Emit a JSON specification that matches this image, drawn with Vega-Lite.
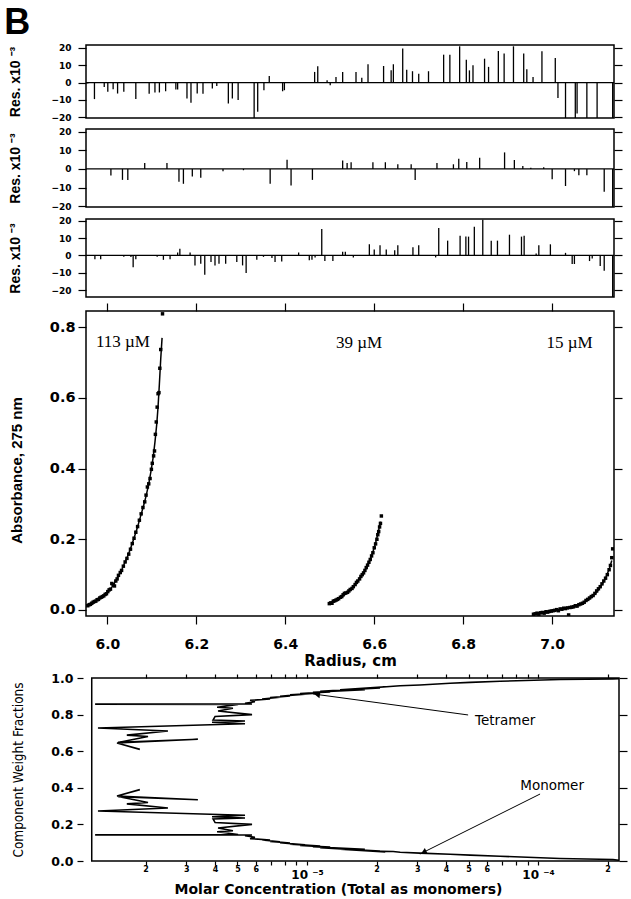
{
"$schema": "https://vega.github.io/schema/vega-lite/v6.json",
"padding": {"left": 4, "top": 4, "right": 2, "bottom": 0},
"title": {"text": "B", "anchor": "start", "font": "Liberation Sans", "fontSize": 36, "fontWeight": "bold", "color": "black", "dx": -3, "offset": 1},
"config": {
  "view": {"stroke": "black", "strokeWidth": 1.5},
  "axis": {"domain": false, "grid": false, "tickColor": "black", "tickWidth": 1.2, "labelColor": "black", "titleColor": "black", "labelFont": "DejaVu Sans", "labelFontWeight": "bold", "titleFont": "Liberation Sans", "titleFontWeight": "bold"}
},
"datasets": {
  "res1": [
    {"r":5.956,"v":-0.5},{"r":5.971,"v":-9.5},{"r":5.993,"v":-2.5},{"r":6.001,"v":-5.3},{"r":6.013,"v":-3.8},{"r":6.023,"v":-6.3},{"r":6.037,"v":-5.3},{"r":6.064,"v":-9.5},{"r":6.094,"v":-6.5},{"r":6.107,"v":-5.7},{"r":6.117,"v":-5.7},{"r":6.131,"v":-5},{"r":6.154,"v":-4},{"r":6.158,"v":-4},{"r":6.179,"v":-9.1},{"r":6.188,"v":-11.6},{"r":6.202,"v":-6.3},{"r":6.215,"v":-6.5},{"r":6.236,"v":-3.4},{"r":6.246,"v":-2},{"r":6.272,"v":-12},{"r":6.281,"v":-9.1},{"r":6.294,"v":-10},{"r":6.33,"v":-21},{"r":6.338,"v":-16.8},{"r":6.352,"v":-4.4},{"r":6.364,"v":3.8},{"r":6.394,"v":-5},{"r":6.398,"v":-4.4},{"r":6.466,"v":6.1},{"r":6.473,"v":9.3},{"r":6.494,"v":1.3},{"r":6.501,"v":-1.5},{"r":6.514,"v":3.2},{"r":6.529,"v":6.1},{"r":6.559,"v":6.1},{"r":6.572,"v":2.7},{"r":6.586,"v":10.5},{"r":6.621,"v":9.5},{"r":6.638,"v":7},{"r":6.643,"v":10.5},{"r":6.664,"v":19.6},{"r":6.673,"v":7.4},{"r":6.686,"v":6.5},{"r":6.7,"v":5.1},{"r":6.722,"v":6.5},{"r":6.756,"v":16},{"r":6.77,"v":16},{"r":6.792,"v":20.8},{"r":6.807,"v":13.1},{"r":6.814,"v":7},{"r":6.822,"v":9.9},{"r":6.848,"v":13.7},{"r":6.857,"v":9},{"r":6.879,"v":18.1},{"r":6.892,"v":16.6},{"r":6.913,"v":20.8},{"r":6.936,"v":16.6},{"r":6.943,"v":7.6},{"r":6.957,"v":3.2},{"r":6.977,"v":17.9},{"r":7.007,"v":14.1},{"r":7.013,"v":-8.8},{"r":7.03,"v":-21},{"r":7.052,"v":-21},{"r":7.056,"v":-17.7},{"r":7.078,"v":-21},{"r":7.101,"v":-21},{"r":7.136,"v":-21}
  ],
  "res2": [
    {"r":6.008,"v":-3.6},{"r":6.034,"v":-5.9},{"r":6.046,"v":-5.9},{"r":6.084,"v":3.2},{"r":6.134,"v":3.2},{"r":6.161,"v":-6.9},{"r":6.171,"v":-8},{"r":6.191,"v":-4.1},{"r":6.21,"v":-4.8},{"r":6.26,"v":-1.2},{"r":6.306,"v":-0.7},{"r":6.366,"v":-8},{"r":6.404,"v":5},{"r":6.413,"v":-8.9},{"r":6.461,"v":-5.9},{"r":6.529,"v":4.6},{"r":6.539,"v":3.2},{"r":6.548,"v":3.6},{"r":6.597,"v":3.6},{"r":6.625,"v":3.6},{"r":6.653,"v":2.5},{"r":6.683,"v":2.5},{"r":6.692,"v":-6},{"r":6.741,"v":3.2},{"r":6.778,"v":2.5},{"r":6.79,"v":5.5},{"r":6.808,"v":3.7},{"r":6.837,"v":6},{"r":6.893,"v":8.9},{"r":6.915,"v":4.8},{"r":6.934,"v":1.6},{"r":6.952,"v":0.7},{"r":6.981,"v":0.9},{"r":7.0,"v":-5.5},{"r":7.03,"v":-9.2},{"r":7.05,"v":-1.2},{"r":7.06,"v":-3.4},{"r":7.078,"v":-3.4},{"r":7.117,"v":-12.3},{"r":7.136,"v":-21}
  ],
  "res3": [
    {"r":5.972,"v":-2.1},{"r":5.985,"v":-2.1},{"r":6.037,"v":-0.8},{"r":6.053,"v":-0.9},{"r":6.058,"v":-6.8},{"r":6.064,"v":-2.1},{"r":6.112,"v":-0.8},{"r":6.126,"v":-2.5},{"r":6.141,"v":-2.1},{"r":6.158,"v":1.7},{"r":6.163,"v":3.8},{"r":6.186,"v":1.7},{"r":6.197,"v":-5.7},{"r":6.21,"v":-4.7},{"r":6.219,"v":-11},{"r":6.233,"v":-3.8},{"r":6.242,"v":-5.7},{"r":6.251,"v":-4.7},{"r":6.266,"v":-4.7},{"r":6.291,"v":-3.8},{"r":6.304,"v":-5.7},{"r":6.312,"v":-10},{"r":6.336,"v":-2.5},{"r":6.351,"v":-0.8},{"r":6.37,"v":-1.5},{"r":6.377,"v":-3.8},{"r":6.392,"v":-3.4},{"r":6.43,"v":1.7},{"r":6.454,"v":-2.8},{"r":6.46,"v":-2.5},{"r":6.467,"v":-1.1},{"r":6.482,"v":15.1},{"r":6.489,"v":-3.2},{"r":6.507,"v":-3.2},{"r":6.529,"v":2.1},{"r":6.535,"v":2.1},{"r":6.553,"v":-1.1},{"r":6.589,"v":6.4},{"r":6.6,"v":3.4},{"r":6.613,"v":5.8},{"r":6.627,"v":3.4},{"r":6.646,"v":3},{"r":6.653,"v":5.8},{"r":6.687,"v":4.7},{"r":6.7,"v":5.8},{"r":6.738,"v":-1.1},{"r":6.745,"v":15.7},{"r":6.765,"v":8.5},{"r":6.793,"v":11.3},{"r":6.806,"v":10.8},{"r":6.812,"v":10.8},{"r":6.825,"v":16.4},{"r":6.844,"v":20.4},{"r":6.863,"v":8.5},{"r":6.877,"v":8.5},{"r":6.904,"v":11.9},{"r":6.931,"v":10.8},{"r":6.937,"v":11.3},{"r":6.964,"v":1.1},{"r":6.97,"v":5.8},{"r":6.996,"v":6.4},{"r":7.03,"v":1.5},{"r":7.045,"v":-4.9},{"r":7.05,"v":-4.9},{"r":7.084,"v":-3.2},{"r":7.09,"v":-1.7},{"r":7.108,"v":-6},{"r":7.117,"v":-8.7},{"r":7.136,"v":-25}
  ],
  "pts": [
    {"s":"113","r":5.956,"a":0.012},{"s":"113","r":5.959,"a":0.015},{"s":"113","r":5.962,"a":0.016},{"s":"113","r":5.965,"a":0.019},{"s":"113","r":5.968,"a":0.022},{"s":"113","r":5.971,"a":0.024},{"s":"113","r":5.974,"a":0.025},{"s":"113","r":5.977,"a":0.029},{"s":"113","r":5.98,"a":0.03},{"s":"113","r":5.983,"a":0.034},{"s":"113","r":5.986,"a":0.036},{"s":"113","r":5.989,"a":0.038},{"s":"113","r":5.992,"a":0.04},{"s":"113","r":5.995,"a":0.044},{"s":"113","r":5.998,"a":0.046},{"s":"113","r":6.001,"a":0.052},{"s":"113","r":6.004,"a":0.057},{"s":"113","r":6.007,"a":0.059},{"s":"113","r":6.01,"a":0.075},{"s":"113","r":6.013,"a":0.072},{"s":"113","r":6.016,"a":0.068},{"s":"113","r":6.019,"a":0.082},{"s":"113","r":6.022,"a":0.088},{"s":"113","r":6.025,"a":0.098},{"s":"113","r":6.029,"a":0.106},{"s":"113","r":6.032,"a":0.112},{"s":"113","r":6.036,"a":0.124},{"s":"113","r":6.04,"a":0.136},{"s":"113","r":6.044,"a":0.146},{"s":"113","r":6.048,"a":0.158},{"s":"113","r":6.052,"a":0.172},{"s":"113","r":6.056,"a":0.188},{"s":"113","r":6.06,"a":0.203},{"s":"113","r":6.064,"a":0.22},{"s":"113","r":6.068,"a":0.236},{"s":"113","r":6.072,"a":0.254},{"s":"113","r":6.076,"a":0.272},{"s":"113","r":6.08,"a":0.29},{"s":"113","r":6.084,"a":0.306},{"s":"113","r":6.087,"a":0.325},{"s":"113","r":6.09,"a":0.348},{"s":"113","r":6.093,"a":0.357},{"s":"113","r":6.096,"a":0.372},{"s":"113","r":6.099,"a":0.398},{"s":"113","r":6.101,"a":0.415},{"s":"113","r":6.104,"a":0.436},{"s":"113","r":6.106,"a":0.45},{"s":"113","r":6.108,"a":0.497},{"s":"113","r":6.11,"a":0.532},{"s":"113","r":6.112,"a":0.574},{"s":"113","r":6.114,"a":0.612},{"s":"113","r":6.116,"a":0.615},{"s":"113","r":6.118,"a":0.684},{"s":"113","r":6.12,"a":0.737},{"s":"113","r":6.124,"a":0.838},
    {"s":"39","r":6.499,"a":0.018},{"s":"39","r":6.502,"a":0.02},{"s":"39","r":6.505,"a":0.019},{"s":"39","r":6.508,"a":0.025},{"s":"39","r":6.511,"a":0.026},{"s":"39","r":6.514,"a":0.028},{"s":"39","r":6.517,"a":0.03},{"s":"39","r":6.52,"a":0.032},{"s":"39","r":6.524,"a":0.036},{"s":"39","r":6.527,"a":0.038},{"s":"39","r":6.53,"a":0.043},{"s":"39","r":6.533,"a":0.047},{"s":"39","r":6.536,"a":0.048},{"s":"39","r":6.54,"a":0.05},{"s":"39","r":6.543,"a":0.054},{"s":"39","r":6.546,"a":0.058},{"s":"39","r":6.55,"a":0.061},{"s":"39","r":6.553,"a":0.066},{"s":"39","r":6.557,"a":0.072},{"s":"39","r":6.56,"a":0.078},{"s":"39","r":6.563,"a":0.082},{"s":"39","r":6.567,"a":0.088},{"s":"39","r":6.57,"a":0.095},{"s":"39","r":6.573,"a":0.1},{"s":"39","r":6.576,"a":0.105},{"s":"39","r":6.579,"a":0.112},{"s":"39","r":6.582,"a":0.12},{"s":"39","r":6.585,"a":0.127},{"s":"39","r":6.588,"a":0.135},{"s":"39","r":6.591,"a":0.143},{"s":"39","r":6.594,"a":0.153},{"s":"39","r":6.597,"a":0.162},{"s":"39","r":6.6,"a":0.176},{"s":"39","r":6.603,"a":0.187},{"s":"39","r":6.606,"a":0.2},{"s":"39","r":6.608,"a":0.213},{"s":"39","r":6.61,"a":0.222},{"s":"39","r":6.612,"a":0.235},{"s":"39","r":6.614,"a":0.245},{"s":"39","r":6.616,"a":0.266},
    {"s":"15","r":6.958,"a":-0.012},{"s":"15","r":6.962,"a":-0.011},{"s":"15","r":6.966,"a":-0.009},{"s":"15","r":6.97,"a":-0.012},{"s":"15","r":6.974,"a":-0.008},{"s":"15","r":6.978,"a":-0.007},{"s":"15","r":6.982,"a":-0.009},{"s":"15","r":6.986,"a":-0.005},{"s":"15","r":6.99,"a":-0.006},{"s":"15","r":6.994,"a":-0.004},{"s":"15","r":6.998,"a":-0.003},{"s":"15","r":7.002,"a":-0.002},{"s":"15","r":7.006,"a":-0.001},{"s":"15","r":7.01,"a":0.001},{"s":"15","r":7.014,"a":-0.002},{"s":"15","r":7.018,"a":0.003},{"s":"15","r":7.022,"a":0.002},{"s":"15","r":7.026,"a":0.005},{"s":"15","r":7.03,"a":0.004},{"s":"15","r":7.034,"a":0.006},{"s":"15","r":7.037,"a":-0.014},{"s":"15","r":7.04,"a":0.007},{"s":"15","r":7.044,"a":0.008},{"s":"15","r":7.048,"a":0.009},{"s":"15","r":7.052,"a":0.012},{"s":"15","r":7.056,"a":0.011},{"s":"15","r":7.06,"a":0.015},{"s":"15","r":7.064,"a":0.017},{"s":"15","r":7.068,"a":0.019},{"s":"15","r":7.072,"a":0.022},{"s":"15","r":7.076,"a":0.027},{"s":"15","r":7.08,"a":0.03},{"s":"15","r":7.084,"a":0.034},{"s":"15","r":7.088,"a":0.038},{"s":"15","r":7.092,"a":0.041},{"s":"15","r":7.096,"a":0.047},{"s":"15","r":7.1,"a":0.054},{"s":"15","r":7.104,"a":0.06},{"s":"15","r":7.108,"a":0.066},{"s":"15","r":7.112,"a":0.074},{"s":"15","r":7.116,"a":0.082},{"s":"15","r":7.12,"a":0.09},{"s":"15","r":7.124,"a":0.1},{"s":"15","r":7.128,"a":0.114},{"s":"15","r":7.131,"a":0.126},{"s":"15","r":7.134,"a":0.148},{"s":"15","r":7.136,"a":0.173}
  ],
  "fit": [
    {"s":"113","r":5.955,"a":0.013},{"s":"113","r":5.965,"a":0.02},{"s":"113","r":5.977,"a":0.028},{"s":"113","r":5.989,"a":0.037},{"s":"113","r":6.0,"a":0.049},{"s":"113","r":6.011,"a":0.066},{"s":"113","r":6.022,"a":0.089},{"s":"113","r":6.033,"a":0.116},{"s":"113","r":6.044,"a":0.147},{"s":"113","r":6.052,"a":0.173},{"s":"113","r":6.059,"a":0.2},{"s":"113","r":6.067,"a":0.231},{"s":"113","r":6.074,"a":0.262},{"s":"113","r":6.081,"a":0.293},{"s":"113","r":6.087,"a":0.322},{"s":"113","r":6.093,"a":0.356},{"s":"113","r":6.098,"a":0.392},{"s":"113","r":6.103,"a":0.432},{"s":"113","r":6.107,"a":0.475},{"s":"113","r":6.111,"a":0.525},{"s":"113","r":6.114,"a":0.575},{"s":"113","r":6.117,"a":0.64},{"s":"113","r":6.12,"a":0.71},{"s":"113","r":6.123,"a":0.77},
    {"s":"39","r":6.5,"a":0.02},{"s":"39","r":6.51,"a":0.026},{"s":"39","r":6.52,"a":0.032},{"s":"39","r":6.53,"a":0.04},{"s":"39","r":6.54,"a":0.05},{"s":"39","r":6.55,"a":0.062},{"s":"39","r":6.56,"a":0.077},{"s":"39","r":6.57,"a":0.094},{"s":"39","r":6.58,"a":0.114},{"s":"39","r":6.588,"a":0.134},{"s":"39","r":6.595,"a":0.157},{"s":"39","r":6.6,"a":0.176},{"s":"39","r":6.605,"a":0.199},{"s":"39","r":6.61,"a":0.226},{"s":"39","r":6.614,"a":0.25},
    {"s":"15","r":6.958,"a":-0.01},{"s":"15","r":6.98,"a":-0.006},{"s":"15","r":7.0,"a":-0.002},{"s":"15","r":7.02,"a":0.003},{"s":"15","r":7.04,"a":0.008},{"s":"15","r":7.06,"a":0.015},{"s":"15","r":7.075,"a":0.024},{"s":"15","r":7.09,"a":0.037},{"s":"15","r":7.1,"a":0.05},{"s":"15","r":7.11,"a":0.068},{"s":"15","r":7.12,"a":0.09},{"s":"15","r":7.128,"a":0.115},{"s":"15","r":7.134,"a":0.14}
  ],
  "labs": [
    {"r":6.035,"a":0.758,"t":"113 µM"},{"r":6.566,"a":0.756,"t":"39 µM"},{"r":7.039,"a":0.756,"t":"15 µM"}
  ],
  "frac": [
    {"i":0,"c":0.000224,"tet":0.996,"mono":0.004},{"i":1,"c":0.000211,"tet":0.995,"mono":0.008},{"i":2,"c":0.0001245,"tet":0.992,"mono":0.014},{"i":3,"c":0.0000685,"tet":0.982,"mono":0.026},{"i":4,"c":0.0000508,"tet":0.976,"mono":0.032},{"i":5,"c":0.0000416,"tet":0.971,"mono":0.037},{"i":6,"c":0.0000308,"tet":0.962,"mono":0.043},{"i":7,"c":0.0000253,"tet":0.958,"mono":0.048},{"i":8,"c":0.0000236,"tet":0.955,"mono":0.052},{"i":9,"c":0.0000187,"tet":0.945,"mono":0.055},{"i":10,"c":0.0000218,"tet":0.952,"mono":0.05},{"i":11,"c":0.0000139,"tet":0.935,"mono":0.065},{"i":12,"c":0.0000207,"tet":0.946,"mono":0.054},{"i":13,"c":0.0000114,"tet":0.928,"mono":0.072},{"i":14,"c":0.0000178,"tet":0.936,"mono":0.064},{"i":15,"c":0.0000106,"tet":0.922,"mono":0.078},{"i":16,"c":0.0000126,"tet":0.924,"mono":0.076},{"i":17,"c":0.00000933,"tet":0.915,"mono":0.085},{"i":18,"c":0.0000114,"tet":0.918,"mono":0.082},{"i":19,"c":0.00000844,"tet":0.908,"mono":0.092},{"i":20,"c":0.0000098,"tet":0.912,"mono":0.088},{"i":21,"c":0.00000764,"tet":0.9,"mono":0.1},{"i":22,"c":0.00000844,"tet":0.902,"mono":0.098},{"i":23,"c":0.00000692,"tet":0.893,"mono":0.107},{"i":24,"c":0.00000764,"tet":0.895,"mono":0.105},{"i":25,"c":0.00000639,"tet":0.885,"mono":0.115},{"i":26,"c":0.00000692,"tet":0.885,"mono":0.115},{"i":27,"c":0.00000567,"tet":0.878,"mono":0.122},{"i":28,"c":0.00000595,"tet":0.87,"mono":0.13},{"i":29,"c":0.00000539,"tet":0.862,"mono":0.138},{"i":30,"c":0.00000578,"tet":0.858,"mono":0.142},{"i":31,"c":0.00000121,"tet":0.857,"mono":0.143},{"i":32,"c":0.00000503,"tet":0.855,"mono":0.145},{"i":33,"c":0.00000408,"tet":0.84,"mono":0.16},{"i":34,"c":0.00000478,"tet":0.835,"mono":0.165},{"i":35,"c":0.00000412,"tet":0.82,"mono":0.18},{"i":36,"c":0.00000578,"tet":0.8,"mono":0.2},{"i":37,"c":0.000004,"tet":0.79,"mono":0.21},{"i":38,"c":0.00000392,"tet":0.77,"mono":0.23},{"i":39,"c":0.00000539,"tet":0.765,"mono":0.235},{"i":40,"c":0.00000388,"tet":0.758,"mono":0.242},{"i":41,"c":0.00000539,"tet":0.75,"mono":0.25},{"i":42,"c":0.000001245,"tet":0.727,"mono":0.273},{"i":43,"c":0.0000025,"tet":0.71,"mono":0.29},{"i":44,"c":0.00000166,"tet":0.688,"mono":0.312},{"i":45,"c":0.00000205,"tet":0.68,"mono":0.32},{"i":46,"c":0.00000152,"tet":0.648,"mono":0.352},{"i":47,"c":0.00000337,"tet":0.665,"mono":0.335},{"i":48,"c":0.000001505,"tet":0.645,"mono":0.355},{"i":49,"c":0.00000189,"tet":0.61,"mono":0.39}
  ],
  "arrows": [
    {"c":0.0000498,"f":0.798,"c2":0.0000106,"f2":0.913},
    {"c":0.000102,"f":0.366,"c2":0.0000308,"f2":0.038}
  ],
  "tlabs": [
    {"c":0.000072,"f":0.765,"t":"Tetramer"},{"c":0.000115,"f":0.41,"t":"Monomer"}
  ]
},
"concat": [
  {
    "width": 528, "height": 73,
    "layer": [
      {"data": {"name": "res1"},
       "mark": {"type": "rule", "color": "black", "strokeWidth": 1.3, "clip": true},
       "encoding": {
         "x": {"field": "r", "type": "quantitative", "scale": {"domain": [5.952, 7.139], "nice": false, "zero": false}, "axis": null},
         "y": {"field": "v", "type": "quantitative", "scale": {"domain": [-20.35, 21.55], "nice": false, "zero": false},
               "axis": {"orient": "left", "values": [-20, -10, 0, 10, 20], "labelFontSize": 9, "tickSize": 8, "labelPadding": 7, "title": "Res. x10 ⁻³", "titleFontSize": 14, "minExtent": 40, "maxExtent": 40, "titlePadding": 24}},
         "y2": {"datum": 0}
       }},
      {"data": {"values": [{}]},
       "mark": {"type": "rule", "color": "black", "strokeWidth": 1.2},
       "encoding": {
         "y": {"datum": 0, "type": "quantitative", "scale": {"domain": [-20.35, 21.55], "nice": false, "zero": false},
               "axis": {"orient": "right", "values": [-20, -10, 0, 10, 20], "labels": false, "tickSize": 8, "title": null}}
       }}
    ],
    "resolve": {"axis": {"y": "independent"}}
  },
  {
    "width": 528, "height": 78,
    "layer": [
      {"data": {"name": "res2"},
       "mark": {"type": "rule", "color": "black", "strokeWidth": 1.3, "clip": true},
       "encoding": {
         "x": {"field": "r", "type": "quantitative", "scale": {"domain": [5.952, 7.139], "nice": false, "zero": false}, "axis": null},
         "y": {"field": "v", "type": "quantitative", "scale": {"domain": [-20.5, 21.5], "nice": false, "zero": false},
               "axis": {"orient": "left", "values": [-20, -10, 0, 10, 20], "labelFontSize": 9, "tickSize": 8, "labelPadding": 7, "title": "Res. x10 ⁻³", "titleFontSize": 14, "minExtent": 40, "maxExtent": 40, "titlePadding": 24}},
         "y2": {"datum": 0}
       }},
      {"data": {"values": [{}]},
       "mark": {"type": "rule", "color": "black", "strokeWidth": 1.2},
       "encoding": {
         "y": {"datum": 0, "type": "quantitative", "scale": {"domain": [-20.5, 21.5], "nice": false, "zero": false},
               "axis": {"orient": "right", "values": [-20, -10, 0, 10, 20], "labels": false, "tickSize": 8, "title": null}}
       }}
    ],
    "resolve": {"axis": {"y": "independent"}}
  },
  {
    "width": 528, "height": 78,
    "layer": [
      {"data": {"name": "res3"},
       "mark": {"type": "rule", "color": "black", "strokeWidth": 1.3, "clip": true},
       "encoding": {
         "x": {"field": "r", "type": "quantitative", "scale": {"domain": [5.952, 7.139], "nice": false, "zero": false}, "axis": null},
         "y": {"field": "v", "type": "quantitative", "scale": {"domain": [-23.8, 20.9], "nice": false, "zero": false},
               "axis": {"orient": "left", "values": [-20, -10, 0, 10, 20], "labelFontSize": 9, "tickSize": 8, "labelPadding": 7, "title": "Res. x10 ⁻³", "titleFontSize": 14, "minExtent": 40, "maxExtent": 40, "titlePadding": 24}},
         "y2": {"datum": 0}
       }},
      {"data": {"values": [{}]},
       "mark": {"type": "rule", "color": "black", "strokeWidth": 1.2},
       "encoding": {
         "y": {"datum": 0, "type": "quantitative", "scale": {"domain": [-23.8, 20.9], "nice": false, "zero": false},
               "axis": {"orient": "right", "values": [-20, -10, 0, 10, 20], "labels": false, "tickSize": 8, "title": null}}
       }}
    ],
    "resolve": {"axis": {"y": "independent"}}
  },
  {
    "width": 528, "height": 305,
    "layer": [
      {"data": {"name": "pts"},
       "mark": {"type": "square", "size": 12, "color": "black", "opacity": 1, "clip": true},
       "encoding": {
         "x": {"field": "r", "type": "quantitative", "scale": {"domain": [5.952, 7.139], "nice": false, "zero": false},
               "axis": {"orient": "bottom", "values": [6.0, 6.2, 6.4, 6.6, 6.8, 7.0], "format": ".1f", "labelFontSize": 14, "tickSize": 8, "labelPadding": 13, "title": "Radius, cm", "titleFont": "DejaVu Sans", "titleFontSize": 15, "titlePadding": 2}},
         "y": {"field": "a", "type": "quantitative", "scale": {"domain": [-0.017, 0.846], "nice": false, "zero": false},
               "axis": {"orient": "left", "values": [0, 0.2, 0.4, 0.6, 0.8], "format": ".1f", "labelFontSize": 14.5, "tickSize": 8, "labelPadding": 3, "title": "Absorbance, 275 nm", "titleFontSize": 15, "minExtent": 40, "maxExtent": 40, "titlePadding": 22, "titleY": 159}}
       }},
      {"data": {"name": "fit"},
       "mark": {"type": "line", "color": "black", "strokeWidth": 1.5, "clip": true},
       "encoding": {
         "x": {"field": "r", "type": "quantitative", "scale": {"domain": [5.952, 7.139], "nice": false, "zero": false},
               "axis": {"orient": "top", "values": [6.0, 6.2, 6.4, 6.6, 6.8, 7.0], "labels": false, "tickSize": 8, "title": null}},
         "y": {"field": "a", "type": "quantitative", "scale": {"domain": [-0.017, 0.846], "nice": false, "zero": false},
               "axis": {"orient": "right", "values": [0, 0.2, 0.4, 0.6, 0.8], "labels": false, "tickSize": 8, "title": null}},
         "detail": {"field": "s"},
         "order": {"field": "r", "type": "quantitative"}
       }},
      {"data": {"name": "labs"},
       "mark": {"type": "text", "font": "Liberation Serif", "fontSize": 17, "color": "black"},
       "encoding": {
         "x": {"field": "r", "type": "quantitative", "scale": {"domain": [5.952, 7.139], "nice": false, "zero": false}, "axis": null},
         "y": {"field": "a", "type": "quantitative", "scale": {"domain": [-0.017, 0.846], "nice": false, "zero": false}, "axis": null},
         "text": {"field": "t"}
       }}
    ],
    "resolve": {"axis": {"x": "independent", "y": "independent"}}
  },
  {
    "width": 533, "height": 183,
    "view": {"stroke": null},
    "layer": [
      {"data": {"values": [{}]},
       "mark": {"type": "rect", "filled": false, "color": "black", "strokeWidth": 1.5},
       "encoding": {
         "x": {"datum": 0.00000117, "type": "quantitative", "scale": {"type": "log", "domain": [0.000001105, 0.000224], "nice": false},
               "axis": {"orient": "bottom", "values": [0.000002,0.000003,0.000004,0.000005,0.000006,0.000007,0.000008,0.000009,0.00001,0.00002,0.00003,0.00004,0.00005,0.00006,0.00007,0.00008,0.00009,0.0001,0.0002],
                        "labelExpr": "abs(datum.value-0.00001)<1e-9 ? '10 ⁻⁵' : abs(datum.value-0.0001)<1e-8 ? '10 ⁻⁴' : (round(datum.value/pow(10,floor(log(datum.value)/LN10+0.001)))<=6 ? ''+round(datum.value/pow(10,floor(log(datum.value)/LN10+0.001))) : '')",
                        "labelFontSize": {"condition": {"test": "abs(datum.value-0.00001)<1e-9 || abs(datum.value-0.0001)<1e-8", "value": 12}, "value": 8},
                        "labelPadding": {"condition": {"test": "abs(datum.value-0.00001)<1e-9 || abs(datum.value-0.0001)<1e-8", "value": 4}, "value": 0},
                        "tickSize": 4, "title": "Molar Concentration (Total as monomers)", "titleFont": "DejaVu Sans", "titleFontSize": 14, "titlePadding": 2, "titleX": 252}},
         "x2": {"datum": 0.000224},
         "y": {"datum": 0, "type": "quantitative", "scale": {"domain": [0, 1], "nice": false, "zero": false},
               "axis": {"orient": "left", "values": [0, 0.2, 0.4, 0.6, 0.8, 1.0], "format": ".1f", "labelFontSize": 12.5, "tickSize": 6, "offset": 3, "labelPadding": 4, "title": "Component Weight Fractions", "titleFont": "Liberation Sans Narrow, DejaVu Sans Condensed, Liberation Sans", "titleFontWeight": "normal", "titleFontSize": 13.5, "minExtent": 40, "maxExtent": 40, "titlePadding": 18}},
         "y2": {"datum": 1}
       }},
      {"data": {"name": "frac"},
       "mark": {"type": "line", "color": "black", "strokeWidth": 1.6, "clip": true},
       "encoding": {
         "x": {"field": "c", "type": "quantitative", "scale": {"type": "log", "domain": [0.000001105, 0.000224], "nice": false},
               "axis": {"orient": "top", "values": [0.000002,0.000003,0.000004,0.000005,0.000006,0.000007,0.000008,0.000009,0.00001,0.00002,0.00003,0.00004,0.00005,0.00006,0.00007,0.00008,0.00009,0.0001,0.0002], "labels": false, "tickSize": 4, "title": null}},
         "y": {"field": "tet", "type": "quantitative", "scale": {"domain": [0, 1], "nice": false, "zero": false},
               "axis": {"orient": "right", "values": [0, 0.2, 0.4, 0.6, 0.8, 1.0], "labels": false, "tickSize": 8, "title": null}},
         "order": {"field": "i", "type": "quantitative"}
       }},
      {"data": {"name": "frac"},
       "mark": {"type": "line", "color": "black", "strokeWidth": 1.6, "clip": true},
       "encoding": {
         "x": {"field": "c", "type": "quantitative", "scale": {"type": "log", "domain": [0.000001105, 0.000224], "nice": false}, "axis": null},
         "y": {"field": "mono", "type": "quantitative", "scale": {"domain": [0, 1], "nice": false, "zero": false}, "axis": null},
         "order": {"field": "i", "type": "quantitative"}
       }},
      {"data": {"name": "arrows"},
       "mark": {"type": "rule", "color": "black", "strokeWidth": 1},
       "encoding": {
         "x": {"field": "c", "type": "quantitative", "scale": {"type": "log", "domain": [0.000001105, 0.000224], "nice": false}, "axis": null},
         "y": {"field": "f", "type": "quantitative", "scale": {"domain": [0, 1], "nice": false, "zero": false}, "axis": null},
         "x2": {"field": "c2"},
         "y2": {"field": "f2"}
       }},
      {"data": {"values": [{"c": 0.00001105, "f": 0.91}]},
       "mark": {"type": "point", "shape": "triangle-up", "filled": true, "size": 45, "color": "black", "opacity": 1, "angle": 278},
       "encoding": {
         "x": {"field": "c", "type": "quantitative", "scale": {"type": "log", "domain": [0.000001105, 0.000224], "nice": false}, "axis": null},
         "y": {"field": "f", "type": "quantitative", "scale": {"domain": [0, 1], "nice": false, "zero": false}, "axis": null}
       }},
      {"data": {"values": [{"c": 0.000032, "f": 0.048}]},
       "mark": {"type": "point", "shape": "triangle-up", "filled": true, "size": 45, "color": "black", "opacity": 1, "angle": 243},
       "encoding": {
         "x": {"field": "c", "type": "quantitative", "scale": {"type": "log", "domain": [0.000001105, 0.000224], "nice": false}, "axis": null},
         "y": {"field": "f", "type": "quantitative", "scale": {"domain": [0, 1], "nice": false, "zero": false}, "axis": null}
       }},
      {"data": {"name": "tlabs"},
       "mark": {"type": "text", "font": "DejaVu Sans", "fontSize": 13.5, "color": "black"},
       "encoding": {
         "x": {"field": "c", "type": "quantitative", "scale": {"type": "log", "domain": [0.000001105, 0.000224], "nice": false}, "axis": null},
         "y": {"field": "f", "type": "quantitative", "scale": {"domain": [0, 1], "nice": false, "zero": false}, "axis": null},
         "text": {"field": "t"}
       }}
    ],
    "resolve": {"axis": {"x": "independent", "y": "independent"}}
  }
],
"columns": 1,
"spacing": 3
}
